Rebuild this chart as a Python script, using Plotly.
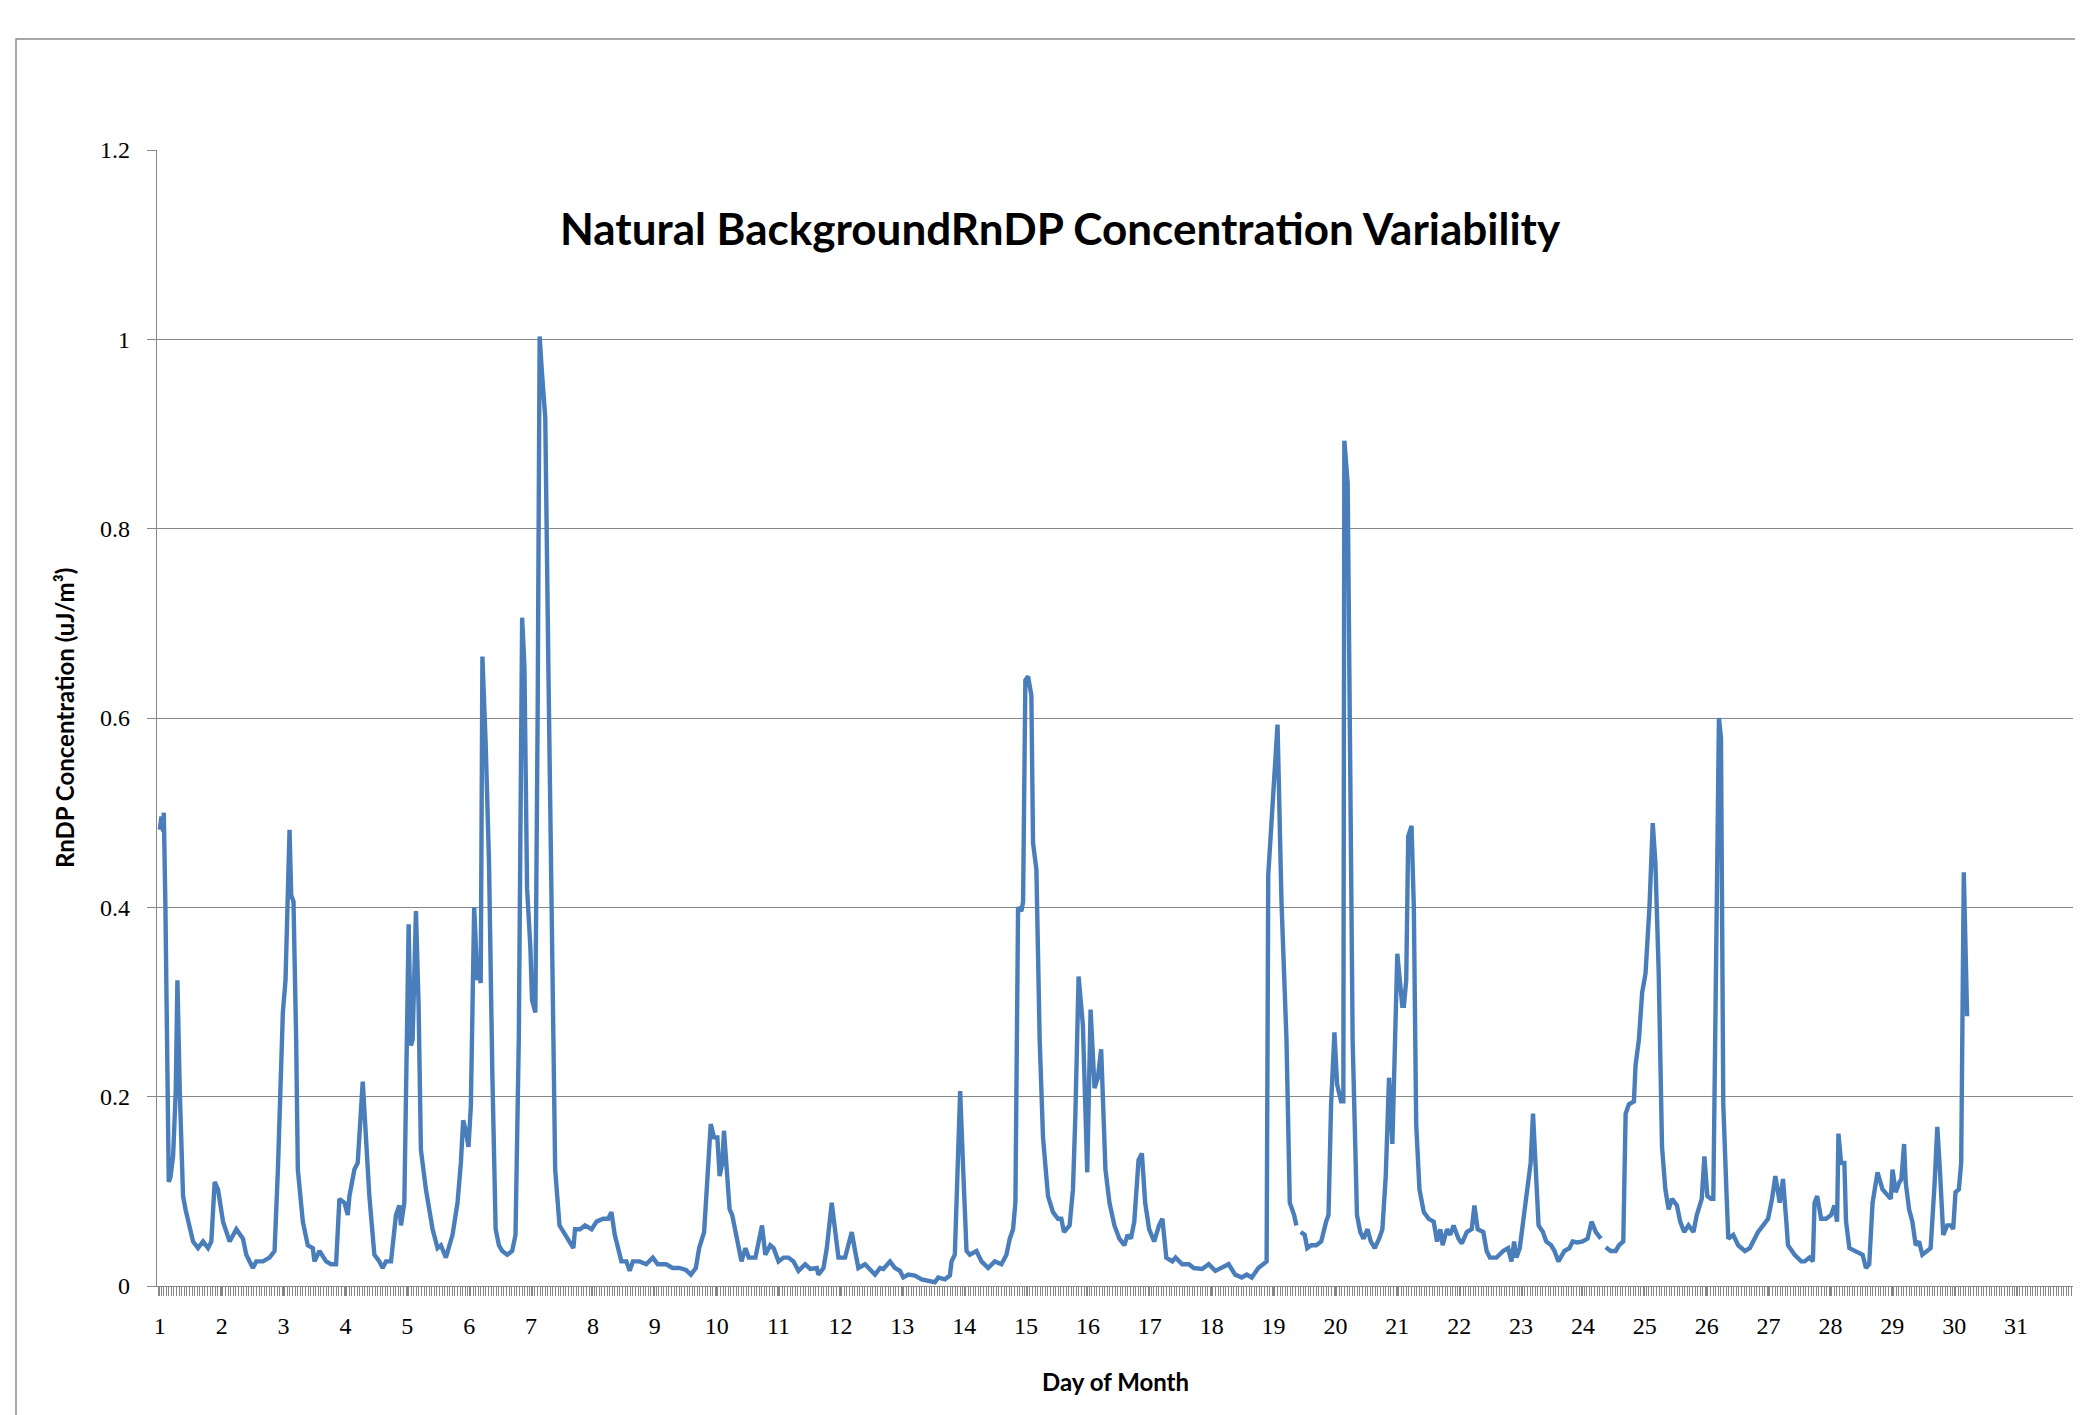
import plotly.graph_objects as go

# Hourly-ish readings of RnDP concentration (uJ/m3) vs. day of month
day_pos = [
    1.000, 1.027, 1.054, 1.065, 1.091, 1.108, 1.145, 1.172, 1.215, 1.258, 1.285, 1.323, 1.376, 1.419,
    1.484, 1.538, 1.618, 1.699, 1.780, 1.833, 1.887, 1.941, 2.022, 2.129, 2.237, 2.344, 2.398, 2.505,
    2.559, 2.667, 2.774, 2.855, 2.909, 2.962, 2.989, 3.032, 3.097, 3.124, 3.161, 3.204, 3.231, 3.312,
    3.392, 3.473, 3.500, 3.581, 3.688, 3.769, 3.849, 3.903, 3.984, 4.038, 4.065, 4.145, 4.199, 4.280,
    4.333, 4.387, 4.468, 4.548, 4.602, 4.656, 4.737, 4.817, 4.871, 4.898, 4.952, 4.978, 5.022, 5.059,
    5.086, 5.140, 5.183, 5.220, 5.301, 5.409, 5.489, 5.543, 5.624, 5.731, 5.812, 5.866, 5.903, 5.946,
    5.989, 6.027, 6.081, 6.134, 6.160, 6.187, 6.214, 6.267, 6.321, 6.374, 6.428, 6.481, 6.535, 6.615,
    6.695, 6.749, 6.802, 6.856, 6.893, 6.936, 6.989, 7.016, 7.070, 7.107, 7.139, 7.176, 7.230, 7.283,
    7.337, 7.390, 7.460, 7.551, 7.631, 7.684, 7.711, 7.791, 7.872, 7.979, 8.059, 8.166, 8.246, 8.299,
    8.353, 8.406, 8.460, 8.540, 8.594, 8.647, 8.754, 8.861, 8.968, 9.048, 9.182, 9.289, 9.396, 9.503,
    9.583, 9.663, 9.717, 9.797, 9.850, 9.904, 9.957, 10.011, 10.048, 10.091, 10.118, 10.160, 10.209,
    10.251, 10.305, 10.369, 10.401, 10.465, 10.519, 10.626, 10.679, 10.733, 10.786, 10.866, 10.920,
    11.000, 11.081, 11.161, 11.242, 11.323, 11.430, 11.511, 11.618, 11.645, 11.726, 11.780, 11.860,
    11.914, 11.968, 12.075, 12.129, 12.183, 12.237, 12.290, 12.398, 12.505, 12.559, 12.640, 12.694,
    12.801, 12.882, 12.962, 13.016, 13.097, 13.204, 13.312, 13.419, 13.527, 13.581, 13.688, 13.769,
    13.796, 13.849, 13.892, 13.935, 13.984, 14.038, 14.091, 14.199, 14.280, 14.387, 14.495, 14.602,
    14.683, 14.737, 14.790, 14.828, 14.871, 14.925, 14.952, 14.989, 15.032, 15.086, 15.113, 15.167,
    15.220, 15.274, 15.355, 15.435, 15.516, 15.570, 15.613, 15.704, 15.758, 15.796, 15.849, 15.919,
    15.989, 16.043, 16.107, 16.160, 16.214, 16.241, 16.283, 16.348, 16.428, 16.508, 16.588, 16.642,
    16.695, 16.749, 16.818, 16.872, 16.925, 16.989, 17.070, 17.150, 17.203, 17.267, 17.364, 17.417,
    17.524, 17.631, 17.711, 17.845, 17.952, 18.059, 18.166, 18.273, 18.380, 18.487, 18.567, 18.647,
    18.754, 18.834, 18.888, 18.914, 18.995, 19.064, 19.128, 19.209, 19.262, 19.332, 19.369, None,
    19.439, 19.503, 19.545, 19.610, 19.690, 19.770, 19.850, 19.888, 19.930, 19.984, 20.027, 20.091,
    20.128, 20.144, 20.198, 20.241, 20.278, 20.348, 20.401, 20.455, 20.519, 20.572, 20.636, 20.706,
    20.759, 20.813, 20.866, 20.920, 21.000, 21.080, 21.107, 21.144, 21.176, 21.230, 21.267, 21.305,
    21.358, 21.428, 21.508, 21.588, 21.642, 21.695, 21.733, 21.802, 21.856, 21.909, 21.989, 22.043,
    22.123, 22.203, 22.246, 22.299, 22.390, 22.444, 22.497, 22.604, 22.711, 22.791, 22.845, 22.888,
    22.925, 22.979, 23.032, 23.102, 23.155, 23.193, 23.230, 23.283, 23.353, 23.406, 23.487, 23.540,
    23.604, 23.701, 23.781, 23.834, 23.914, 23.995, 24.075, 24.139, 24.209, 24.289, None, 24.369,
    24.449, 24.529, 24.583, 24.652, 24.690, 24.743, 24.824, 24.850, 24.904, 24.957, 25.011, 25.075,
    25.128, 25.171, 25.225, 25.278, 25.332, 25.385, 25.439, 25.519, 25.572, 25.636, 25.706, 25.786,
    25.840, 25.920, 25.963, 26.011, 26.070, 26.107, 26.161, 26.198, 26.231, 26.268, 26.322, 26.349,
    26.429, 26.509, 26.617, 26.697, 26.751, 26.831, 26.912, 26.992, 27.056, 27.110, 27.180, 27.233,
    27.287, 27.314, 27.421, 27.528, 27.582, 27.662, 27.716, 27.743, 27.786, 27.850, 27.930, 28.011,
    28.064, 28.107, 28.129, 28.172, 28.225, 28.252, 28.306, 28.386, 28.520, 28.574, 28.627, 28.681,
    28.761, 28.842, 28.922, 28.976, 29.003, 29.056, 29.110, 29.147, 29.190, 29.217, 29.271, 29.324,
    29.378, 29.432, 29.485, 29.566, 29.619, 29.684, 29.727, 29.769, 29.823, 29.887, 29.952, 29.984,
    30.021, 30.075, 30.113, 30.155, 30.209,
]

rndp_conc = [
    0.482, 0.496, 0.480, 0.500, 0.400, 0.300, 0.110, 0.115, 0.137, 0.206, 0.323, 0.206, 0.095, 0.080,
    0.064, 0.047, 0.040, 0.047, 0.040, 0.047, 0.110, 0.102, 0.068, 0.047, 0.060, 0.050, 0.033, 0.019,
    0.026, 0.026, 0.030, 0.037, 0.123, 0.226, 0.289, 0.323, 0.482, 0.413, 0.406, 0.260, 0.123, 0.068,
    0.043, 0.040, 0.026, 0.037, 0.026, 0.023, 0.023, 0.092, 0.088, 0.075, 0.095, 0.123, 0.130, 0.216,
    0.157, 0.095, 0.033, 0.026, 0.019, 0.026, 0.026, 0.075, 0.085, 0.064, 0.088, 0.190, 0.382, 0.254,
    0.260, 0.396, 0.296, 0.144, 0.102, 0.060, 0.040, 0.043, 0.030, 0.054, 0.088, 0.130, 0.175, 0.164,
    0.147, 0.190, 0.400, 0.323, 0.330, 0.320, 0.665, 0.572, 0.447, 0.226, 0.060, 0.043, 0.037, 0.033,
    0.037, 0.054, 0.260, 0.706, 0.655, 0.420, 0.358, 0.302, 0.289, 0.606, 1.003, 0.965, 0.917, 0.640,
    0.330, 0.123, 0.064, 0.054, 0.047, 0.040, 0.060, 0.060, 0.064, 0.060, 0.068, 0.071, 0.071, 0.078,
    0.054, 0.040, 0.026, 0.026, 0.016, 0.026, 0.026, 0.023, 0.030, 0.023, 0.023, 0.019, 0.019, 0.017,
    0.012, 0.019, 0.040, 0.057, 0.123, 0.171, 0.157, 0.157, 0.116, 0.130, 0.164, 0.123, 0.081,
    0.075, 0.057, 0.040, 0.026, 0.040, 0.030, 0.030, 0.047, 0.064, 0.033, 0.043, 0.040,
    0.026, 0.030, 0.030, 0.026, 0.016, 0.023, 0.018, 0.019, 0.012, 0.019, 0.040, 0.088,
    0.054, 0.030, 0.030, 0.043, 0.057, 0.037, 0.019, 0.023, 0.016, 0.012, 0.019, 0.018,
    0.026, 0.019, 0.016, 0.009, 0.012, 0.011, 0.007, 0.006, 0.004, 0.009, 0.007, 0.011,
    0.026, 0.033, 0.123, 0.206, 0.123, 0.037, 0.033, 0.037, 0.026, 0.019, 0.026, 0.023,
    0.033, 0.050, 0.060, 0.088, 0.400, 0.396, 0.406, 0.640, 0.644, 0.624, 0.468, 0.440,
    0.260, 0.157, 0.095, 0.078, 0.071, 0.071, 0.057, 0.064, 0.102, 0.178, 0.327, 0.275,
    0.120, 0.292, 0.209, 0.220, 0.250, 0.206, 0.123, 0.088, 0.064, 0.050, 0.043, 0.054,
    0.050, 0.068, 0.133, 0.140, 0.088, 0.060, 0.047, 0.064, 0.071, 0.030, 0.026, 0.030,
    0.023, 0.023, 0.019, 0.018, 0.023, 0.016, 0.019, 0.023, 0.012, 0.009, 0.012, 0.009,
    0.019, 0.023, 0.026, 0.434, 0.523, 0.593, 0.406, 0.260, 0.088, 0.075, 0.064, None,
    0.057, 0.054, 0.040, 0.043, 0.043, 0.047, 0.068, 0.075, 0.192, 0.268, 0.213, 0.195,
    0.195, 0.893, 0.848, 0.468, 0.260, 0.075, 0.057, 0.050, 0.060, 0.047, 0.040, 0.050,
    0.060, 0.116, 0.220, 0.150, 0.351, 0.296, 0.296, 0.323, 0.475, 0.486, 0.400, 0.171,
    0.102, 0.078, 0.071, 0.068, 0.047, 0.060, 0.043, 0.060, 0.054, 0.064, 0.050, 0.045,
    0.057, 0.060, 0.085, 0.060, 0.057, 0.037, 0.030, 0.030, 0.037, 0.040, 0.026, 0.047,
    0.030, 0.040, 0.068, 0.102, 0.130, 0.182, 0.123, 0.064, 0.057, 0.047, 0.043, 0.037,
    0.026, 0.037, 0.040, 0.047, 0.046, 0.047, 0.050, 0.068, 0.057, 0.050, None, 0.041,
    0.037, 0.037, 0.043, 0.047, 0.182, 0.192, 0.195, 0.233, 0.260, 0.310, 0.330, 0.400,
    0.489, 0.447, 0.330, 0.147, 0.102, 0.081, 0.092, 0.085, 0.068, 0.057, 0.064, 0.057,
    0.075, 0.092, 0.137, 0.095, 0.092, 0.092, 0.400, 0.600, 0.579, 0.192, 0.095, 0.050,
    0.054, 0.043, 0.037, 0.040, 0.047, 0.057, 0.064, 0.071, 0.092, 0.116, 0.088, 0.113,
    0.068, 0.043, 0.033, 0.026, 0.026, 0.030, 0.026, 0.088, 0.095, 0.071, 0.071, 0.075,
    0.085, 0.068, 0.161, 0.130, 0.130, 0.068, 0.040, 0.037, 0.033, 0.019, 0.023, 0.088,
    0.120, 0.102, 0.095, 0.092, 0.123, 0.099, 0.109, 0.113, 0.150, 0.109, 0.081, 0.068,
    0.043, 0.047, 0.033, 0.037, 0.040, 0.109, 0.168, 0.123, 0.054, 0.064, 0.064, 0.060,
    0.099, 0.102, 0.130, 0.437, 0.285,
]

day_ticks = list(range(1, 32))
day_labels = [str(d) for d in day_ticks]
y_ticks = [0, 0.2, 0.4, 0.6, 0.8, 1.0, 1.2]
y_labels = ["0", "0.2", "0.4", "0.6", "0.8", "1", "1.2"]

chart_title = "Natural BackgroundRnDP Concentration Variability"
x_title = "Day of Month"
y_title = "RnDP Concentration (uJ/m³)"

# The page body adds an 8 px offset; target page positions are expressed in page pixels.
OFF = 8
W, H = 2075, 1407
PLOT_L, PLOT_R, PLOT_T, PLOT_B = 157, 2073, 150, 1286   # page pixels
L = PLOT_L - OFF
T = PLOT_T - OFF
R = W + OFF - PLOT_R
B = H + OFF - PLOT_B
pw, ph = PLOT_R - PLOT_L, PLOT_B - PLOT_T

def px_x(p):
    return (p - PLOT_L) / pw

def px_y(p):
    return (PLOT_B - p) / ph

fig = go.Figure()
fig.add_trace(go.Scatter(
    x=day_pos, y=rndp_conc, mode="lines",
    line=dict(color="#4a7ebb", width=4.4),
    connectgaps=False, showlegend=False, hoverinfo="skip",
))

grey = "#878787"
tick_font = dict(family="Liberation Serif, DejaVu Serif, serif", size=24, color="#000000")
bold_font = "Lato, Noto Sans, sans-serif"

fig.update_layout(
    width=W, height=H,
    margin=dict(l=L, r=R, t=T, b=B, pad=0),
    paper_bgcolor="white", plot_bgcolor="white",
    showlegend=False,
    xaxis=dict(
        range=[0.955, 31.92],
        tickmode="array", tickvals=day_ticks, ticktext=day_labels,
        ticks="outside", ticklen=9, tickcolor=grey, tickwidth=1,
        minor=dict(dtick=1 / 24, tick0=1 - 0.5 / 24, ticks="outside", ticklen=9,
                   tickcolor=grey, tickwidth=1, showgrid=False),
        showgrid=False, zeroline=False,
        showline=True, linecolor=grey, linewidth=1.2,
        tickfont=tick_font, ticklabelstandoff=9,
    ),
    yaxis=dict(
        range=[0, 1.2],
        tickmode="array", tickvals=y_ticks, ticktext=y_labels,
        ticks="outside", ticklen=9, tickcolor=grey, tickwidth=1,
        showgrid=True, gridcolor=grey, gridwidth=1,
        zeroline=False, showline=True, linecolor=grey, linewidth=1.2,
        tickfont=tick_font, ticklabelstandoff=12,
    ),
    annotations=[
        dict(text="<b>" + chart_title + "</b>", xref="paper", yref="paper",
             x=px_x(1060), y=px_y(228), xanchor="center", yanchor="middle",
             showarrow=False,
             font=dict(family=bold_font, size=44, color="#000000")),
        dict(text="<b>" + x_title + "</b>", xref="paper", yref="paper",
             x=px_x(1115), y=px_y(1381), xanchor="center", yanchor="middle",
             showarrow=False,
             font=dict(family=bold_font, size=24, color="#000000")),
        dict(text="<b>" + y_title + "</b>", xref="paper", yref="paper",
             x=px_x(64), y=px_y(718), xanchor="center", yanchor="middle",
             textangle=-90, showarrow=False,
             font=dict(family=bold_font, size=24, color="#000000")),
    ],
    shapes=[
        dict(type="rect", xref="paper", yref="paper",
             x0=px_x(16), x1=px_x(2120), y0=px_y(1460), y1=px_y(39),
             line=dict(color="#8c8c8c", width=1.5), fillcolor="rgba(0,0,0,0)", layer="below"),
    ],
)

fig.write_html("out.html")
